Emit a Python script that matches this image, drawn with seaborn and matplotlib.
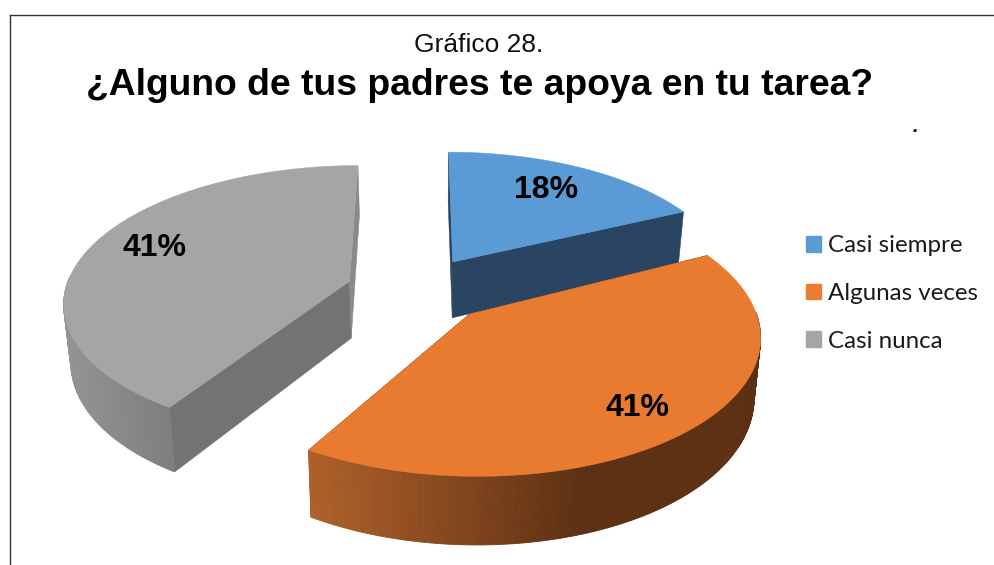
import numpy as np
import seaborn as sns
import matplotlib.pyplot as plt
from matplotlib.patches import Patch

# data
categories = ['Casi siempre', 'Algunas veces', 'Casi nunca']
percent = [18, 41, 41]
top_colors = ['#5B9BD5', '#E97B30', '#A5A5A5']
legend_colors = ['#5B9BD5', '#ED7D31', '#A5A5A5']
face_colors = ['#2A4562', '#5E3013', '#737373']
sliver_colors = ['#2A4562', '#5E3013', '#8A8A8A']
wall_colors = [['#2A4562', '#2A4562'], ['#B0622A', '#5E3013'], ['#939393', '#7C7C7C']]
wall_x_range = [(450, 690), (305, 580), (65, 178)]

sns.set_theme(style='white')
plt.rcParams['font.family'] = ['Liberation Sans', 'DejaVu Sans']

# perspective of the pie, tuned against the reference
VANISH_X, VANISH_Y = 418, -665
DEPTH = 965
THICK = 58
SHRINK = 0.98
SHRINK_X = 430
RADIUS = 283
RADIUS_W = 0.14
CENTER_X, CENTER_W = -1.8, 1.01
explode = [0.25, 0.28, 0.25]
rotate = np.radians([0, -1.5, 0])
lift = [0.01, 0.035, 0]
size = [1, 1, 1.015]
label_r = [0.71, 0.79, 0.76]
label_dy = [-3, 4, -7]


def project(a, b, bottom=False):
    # a, b are ground coordinates in pie radii (a right, b away from viewer)
    w = CENTER_W + RADIUS_W * np.asarray(b)
    x = VANISH_X + (CENTER_X + RADIUS * np.asarray(a)) / w
    if bottom:
        x = SHRINK_X + (x - SHRINK_X) * SHRINK
        return x, VANISH_Y + (DEPTH + THICK) / w
    return x, VANISH_Y + DEPTH / w


fig = plt.figure(figsize=(9.95, 5.65), dpi=100)
ax = fig.add_axes([10 / 995, 0, 985 / 995, (565 - 14.5) / 565])
ax.set_xlim(10, 995)
ax.set_ylim(565, 14.5)
ax.set_xticks([])
ax.set_yticks([])
sns.despine(ax=ax, top=False, right=True, bottom=True)
for side in ['left', 'top']:
    ax.spines[side].set_color('#333333')
    ax.spines[side].set_linewidth(1.0)

shares = np.array(percent) / sum(percent) * 2 * np.pi
ends = np.cumsum(shares)
starts = ends - shares

# back slices first, front slice last
for i in [2, 0, 1]:
    mid = (starts[i] + ends[i]) / 2
    ox, oy = explode[i] * np.sin(mid), explode[i] * np.cos(mid) + lift[i]
    start, end = starts[i] + rotate[i], ends[i] + rotate[i]
    theta = np.linspace(start, end, 240)
    a = ox + size[i] * np.sin(theta)
    b = oy + size[i] * np.cos(theta)

    # the two cut faces
    for ang in [start, end]:
        # blue shows its end face, grey its start face
        col = face_colors[i] if (i == 0) == (ang == end) else sliver_colors[i]
        ea, eb = ox + size[i] * np.sin(ang), oy + size[i] * np.cos(ang)
        x0, y0 = project(ox, oy)
        x1, y1 = project(ea, eb)
        x2, y2 = project(ea, eb, bottom=True)
        x3, y3 = project(ox, oy, bottom=True)
        ax.fill([x0, x1, x2, x3], [y0, y1, y2, y3], color=col, lw=0.4)

    # outer wall, only the part that faces the viewer
    pal = sns.blend_palette(wall_colors[i], 64)
    xt, yt = project(a, b)
    xb, yb = project(a, b, bottom=True)
    for k in range(len(theta) - 1):
        if np.cos(theta[k]) > 0.02:
            continue
        t = (xt[k] - wall_x_range[i][0]) / (wall_x_range[i][1] - wall_x_range[i][0])
        col = pal[int(np.clip(t, 0, 1) * 63)]
        ax.fill([xt[k], xt[k + 1], xb[k + 1], xb[k]],
                [yt[k], yt[k + 1], yb[k + 1], yb[k]], color=col, lw=0.6)

    # top surface
    xa, ya = project(ox, oy)
    ax.fill(np.r_[xa, xt], np.r_[ya, yt], color=top_colors[i], lw=0.3)

# percent labels
for i in range(3):
    mid = (starts[i] + ends[i]) / 2
    ox, oy = explode[i] * np.sin(mid), explode[i] * np.cos(mid) + lift[i]
    lx, ly = project(ox + label_r[i] * np.sin(mid), oy + label_r[i] * np.cos(mid))
    ax.text(lx, ly + label_dy[i], f'{percent[i]}%', ha='center', va='center',
            fontsize=23, fontweight='bold', color='black')

ax.text(479, 45.5, 'Gráfico 28.', ha='center', va='center', fontsize=19, color='#111111')
ax.text(480, 85.5, '¿Alguno de tus padres te apoya en tu tarea?', ha='center', va='center',
        fontsize=26.85, fontweight='bold', color='black')
ax.text(915, 127, '.', ha='center', va='center', fontsize=14, fontweight='bold',
        style='italic', color='black')

handles = [Patch(color=c) for c in legend_colors]
ax.legend(handles, categories, loc='center left', bbox_to_anchor=(806, 293.5),
          bbox_transform=ax.transData, frameon=False, prop={'family': 'Lato', 'size': 17.4},
          handlelength=0.62, handleheight=0.62, handletextpad=0.3,
          labelspacing=1.1, labelcolor='#1a1a1a', borderpad=0, borderaxespad=0)

plt.savefig('out.png', dpi=100)
plt.close()
